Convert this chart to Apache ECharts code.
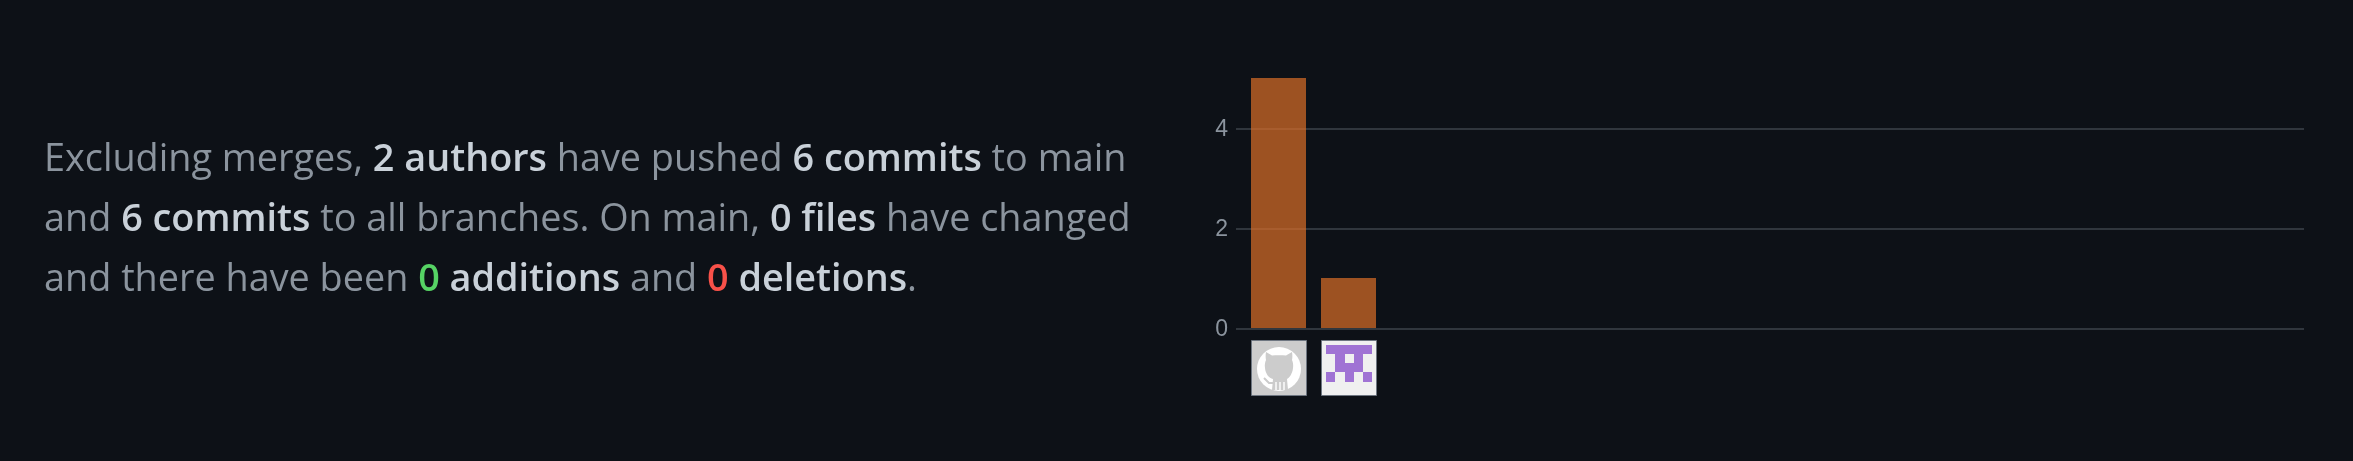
<!DOCTYPE html>
<html><head><meta charset="utf-8">
<style>html,body{margin:0;padding:0;background:#0d1117;overflow:hidden}#c{width:2353px;height:461px}</style>
<script src="https://cdn.jsdelivr.net/npm/echarts@6/dist/echarts.min.js"></script>
</head><body><div id="c"></div>
<script>
const authors = ['github-actions', 'contributor'];
const commits = [5, 1];
const yTicks = [0, 2, 4];
const summaryLines = [
  '{m|Excluding merges, }{b|2 authors}{m| have pushed }{b|6 commits}{m| to main}',
  '{m|and }{b|6 commits}{m| to all branches. On main, }{b|0 files}{m| have changed}',
  '{m|and there have been }{g|0}{b| additions}{m| and }{r|0}{b| deletions}{m|.}'
];
const FONT = '"Open Sans"';
const SIZE = 37.8;
const pixels = [[1,1,1,1,1],[0,1,0,1,0],[0,1,1,1,0],[1,0,1,0,1]];
const colEdges = [5,14,24,33,42,51];
const rowEdges = [5,14,23,32,42];
const catHead = 'M15 12 L21 15.500 C25 15 31 15 35 15.500 L41 12 C41.500 15 41.500 18 41 20 C42 22 42.500 25 42 28 C41.500 34 38 38 36 39 L37 50 L21 50 L22 39 C18 38 14.500 34 14 28 C13.500 25 14 22 15 20 C14.500 18 14.500 15 15 12 Z';
const chart = echarts.init(document.getElementById('c'), null, {renderer:'canvas'});
const run = (fill, fontWeight) => ({fill, fontSize:SIZE, fontWeight, fontFamily:FONT, lineHeight:50});
const rich = {
  m:run('#8b949e',400), b:run('#c9d1d9',600), g:run('#56d364',600), r:run('#f85149',600)
};
const lineTop = [135, 195, 255];
chart.setOption({
  backgroundColor:'#0d1117',
  animation:false,
  grid:{left:1236,right:49,top:78,height:250},
  xAxis:{type:'value',min:-42.5/70,max:(2304-1278.5)/70,show:false},
  yAxis:{type:'value',min:0,max:5,interval:1,
    axisLine:{show:false},axisTick:{show:false},
    axisLabel:{color:'#8b949e',fontSize:23,fontFamily:'"Liberation Sans"',margin:8,verticalAlign:'top',lineHeight:4,
      formatter:v=>yTicks.includes(v)?String(v):''},
    splitLine:{show:false}},
  series:[
    {type:'custom',z:1,silent:true,
      data:yTicks.map(v=>[v]),
      encode:{x:-1,y:0},
      renderItem:(p,api)=>{
        const y=api.coord([0,api.value(0)])[1];
        return {type:'rect',shape:{x:p.coordSys.x,y:y,width:p.coordSys.width,height:2},style:{fill:'#30363d'}};
      }},
    {type:'bar',z:2,barWidth:55,itemStyle:{color:'rgba(219,109,40,0.7)'},
      data:commits.map((v,i)=>[i,v])},
    {type:'custom',z:3,silent:true,
      data:authors.map((a,i)=>[i]),
      encode:{x:0},
      renderItem:(p,api)=>{
        const idx=api.value(0);
        const c=api.coord([idx,0]);
        const S=56;
        const kids=[{type:'rect',shape:{x:.5,y:.5,width:S-1,height:S-1},
          style:{fill:idx===0?'#cccccc':'#f0f0f0',stroke:'#6e7681',lineWidth:1}}];
        if(idx===0){
          kids.push({type:'circle',shape:{cx:28,cy:29,r:22},style:{fill:'#ffffff'}});
          kids.push({type:'path',shape:{pathData:catHead},style:{fill:'#cccccc'}});
          kids.push({type:'path',shape:{pathData:'M13 38 L18 43 L22 43'},style:{fill:'none',stroke:'#cccccc',lineWidth:2}});
          [25,29,33].forEach(x=>kids.push({type:'rect',shape:{x:x-.7,y:42,width:1.4,height:8},style:{fill:'#ffffff'}}));
        }else{
          pixels.forEach((row,r)=>row.forEach((on,k)=>{
            if(on)kids.push({type:'rect',shape:{x:colEdges[k],y:rowEdges[r],width:colEdges[k+1]-colEdges[k],height:rowEdges[r+1]-rowEdges[r]},style:{fill:'#a073d4'}});
          }));
        }
        return {type:'group',x:c[0]-27.5,y:c[1]+12,children:kids};
      }}
  ],
  graphic:summaryLines.map((t,i)=>({type:'text',left:44,top:lineTop[i],
    style:{text:t,rich:rich,fontFamily:FONT,fontSize:SIZE,lineHeight:50}}))
});
</script></body></html>
